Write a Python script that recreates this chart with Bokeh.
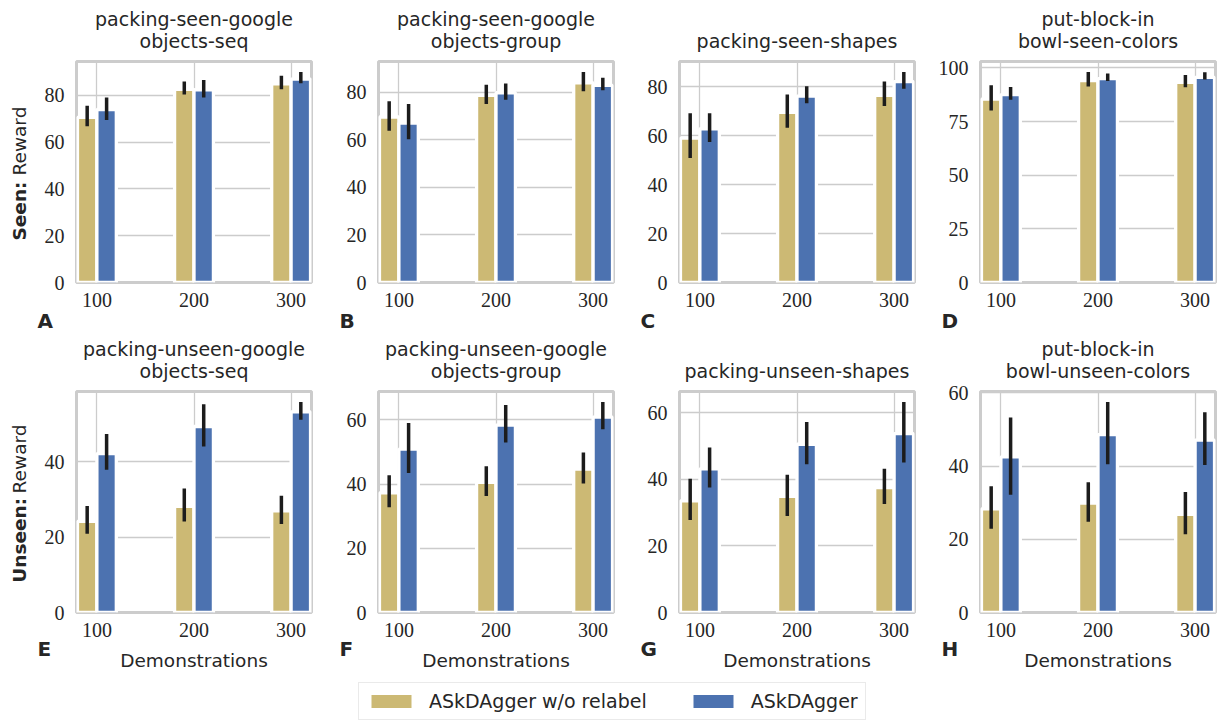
from math import pi
from bokeh.plotting import figure
from bokeh.models import FixedTicker, Range1d, Legend, LegendItem, GridBox
from bokeh.core.properties import value
from bokeh.layouts import column, row
from bokeh.embed import file_html
from bokeh.resources import INLINE

# ---------------- data ----------------
demos = [100, 200, 300]
series_names = ["ASkDAgger w/o relabel", "ASkDAgger"]
title_lines = [
    ["packing-seen-google", "objects-seq"],
    ["packing-seen-google", "objects-group"],
    ["packing-seen-shapes"],
    ["put-block-in", "bowl-seen-colors"],
    ["packing-unseen-google", "objects-seq"],
    ["packing-unseen-google", "objects-group"],
    ["packing-unseen-shapes"],
    ["put-block-in", "bowl-unseen-colors"],
]
letters = ["A", "B", "C", "D", "E", "F", "G", "H"]
row_labels = ["Seen:", "Unseen:"]
y_label_rest = "Reward"
x_label = "Demonstrations"
y_ticks_20 = [0, 20, 40, 60, 80, 100]
y_ticks_25 = [0, 25, 50, 75, 100]

# A: packing-seen-google-objects-seq
A_wo_mean = [70.5, 82.5, 84.8]
A_wo_lo = [66.7, 80.3, 82.5]
A_wo_hi = [75.5, 85.8, 88.3]
A_ask_mean = [73.9, 82.3, 86.9]
A_ask_lo = [69.4, 79.0, 85.1]
A_ask_hi = [79.0, 86.5, 89.9]
# B: packing-seen-google-objects-group
B_wo_mean = [69.5, 78.6, 83.9]
B_wo_lo = [63.7, 75.0, 80.3]
B_wo_hi = [76.1, 83.1, 88.4]
B_ask_mean = [67.0, 79.7, 82.8]
B_ask_lo = [60.2, 76.8, 80.7]
B_ask_hi = [75.0, 83.6, 86.0]
# C: packing-seen-shapes
C_wo_mean = [59.1, 69.6, 76.6]
C_wo_lo = [50.9, 63.3, 72.2]
C_wo_hi = [69.2, 76.9, 82.2]
C_ask_mean = [62.9, 76.2, 82.2]
C_ask_lo = [57.5, 73.3, 79.3]
C_ask_hi = [69.2, 80.3, 86.1]
# D: put-block-in-bowl-seen-colors
D_wo_mean = [85.5, 94.1, 93.3]
D_wo_lo = [80.2, 91.3, 91.0]
D_wo_hi = [91.9, 98.1, 96.7]
D_ask_mean = [87.6, 95.0, 95.6]
D_ask_lo = [85.2, 93.9, 94.6]
D_ask_hi = [91.1, 97.4, 98.0]
# E: packing-unseen-google-objects-seq
E_wo_mean = [24.2, 28.2, 27.0]
E_wo_lo = [20.9, 24.2, 23.5]
E_wo_hi = [28.3, 32.9, 31.0]
E_ask_mean = [42.2, 49.4, 53.3]
E_ask_lo = [37.9, 44.1, 51.2]
E_ask_hi = [47.4, 55.3, 55.9]
# F: packing-unseen-google-objects-group
F_wo_mean = [37.3, 40.6, 44.7]
F_wo_lo = [32.8, 36.3, 40.2]
F_wo_hi = [42.8, 45.6, 49.9]
F_ask_mean = [50.9, 58.4, 60.9]
F_ask_lo = [43.5, 53.0, 57.1]
F_ask_hi = [59.1, 64.7, 65.6]
# G: packing-unseen-shapes
G_wo_mean = [33.6, 34.9, 37.6]
G_wo_lo = [27.8, 29.0, 32.6]
G_wo_hi = [40.2, 41.4, 43.2]
G_ask_mean = [43.2, 50.6, 53.8]
G_ask_lo = [37.6, 44.6, 45.1]
G_ask_hi = [49.6, 57.3, 63.3]
# H: put-block-in-bowl-unseen-colors
H_wo_mean = [28.3, 29.9, 26.8]
H_wo_lo = [22.9, 24.8, 21.4]
H_wo_hi = [34.5, 35.6, 32.9]
H_ask_mean = [42.5, 48.6, 47.1]
H_ask_lo = [32.2, 40.5, 40.3]
H_ask_hi = [53.3, 57.5, 54.7]

panels = [
    (A_wo_mean, A_wo_lo, A_wo_hi, A_ask_mean, A_ask_lo, A_ask_hi, y_ticks_20),
    (B_wo_mean, B_wo_lo, B_wo_hi, B_ask_mean, B_ask_lo, B_ask_hi, y_ticks_20),
    (C_wo_mean, C_wo_lo, C_wo_hi, C_ask_mean, C_ask_lo, C_ask_hi, y_ticks_20),
    (D_wo_mean, D_wo_lo, D_wo_hi, D_ask_mean, D_ask_lo, D_ask_hi, y_ticks_25),
    (E_wo_mean, E_wo_lo, E_wo_hi, E_ask_mean, E_ask_lo, E_ask_hi, y_ticks_20),
    (F_wo_mean, F_wo_lo, F_wo_hi, F_ask_mean, F_ask_lo, F_ask_hi, y_ticks_20),
    (G_wo_mean, G_wo_lo, G_wo_hi, G_ask_mean, G_ask_lo, G_ask_hi, y_ticks_20),
    (H_wo_mean, H_wo_lo, H_wo_hi, H_ask_mean, H_ask_lo, H_ask_hi, y_ticks_20),
]

# ---------------- style / layout ----------------
GOLD = "#ccb974"
BLUE = "#4c72b0"
TXT = "#262626"
GRID = "#cccccc"
SANS = "DejaVu Sans"
SERIF = "Liberation Serif"
BAR_W = 20
OFFSET = 10
PAGE_W, PAGE_H = 1218, 720

col_borders = [(76, 5), (62, 4), (62, 4), (62, 3)]   # left, right
row_borders = [(61, 48), (61, 65)]                   # top, bottom
FRAME_W = 235
FRAME_H = 221
LEGEND_H = PAGE_H - sum(t + FRAME_H + b for t, b in row_borders)

col_x0 = []
acc = 0
for bl, br in col_borders:
    col_x0.append(acc)
    acc += bl + FRAME_W + br
row_y0 = []
acc = 0
for bt, bb in row_borders:
    row_y0.append(acc)
    acc += bt + FRAME_H + bb
frame_left = [col_x0[c] + col_borders[c][0] for c in range(4)]
frame_top = [row_y0[r] + row_borders[r][0] for r in range(2)]
frame_bottom = [t + FRAME_H for t in frame_top]


def make_panel(idx):
    r, c = divmod(idx, 4)
    wo, wo_lo, wo_hi, ask, ask_lo, ask_hi, ticks = panels[idx]
    bl, br = col_borders[c]
    bt, bb = row_borders[r]
    y_end = 1.05 * max(wo_hi + ask_hi)
    p = figure(
        width=bl + FRAME_W + br, height=bt + FRAME_H + bb,
        x_range=Range1d(79, 321), y_range=Range1d(0, y_end),
        output_backend="svg", toolbar_location=None,
        min_border_left=bl, min_border_right=br,
        min_border_top=bt, min_border_bottom=bb,
    )
    p.background_fill_color = "white"
    p.border_fill_color = "white"
    p.outline_line_color = GRID
    p.outline_line_width = 3

    p.xaxis.ticker = FixedTicker(ticks=demos)
    p.yaxis.ticker = FixedTicker(ticks=ticks)
    for ax in (p.xaxis, p.yaxis):
        ax.axis_line_color = None
        ax.major_tick_line_color = None
        ax.minor_tick_line_color = None
        ax.major_tick_out = 0
        ax.major_tick_in = 0
        ax.minor_tick_out = 0
        ax.major_label_text_font = SERIF
        ax.major_label_text_font_size = "20px"
        ax.major_label_text_color = TXT
    p.xaxis.major_label_standoff = 10
    p.yaxis.major_label_standoff = 12
    if r == 1:
        p.xaxis.axis_label = x_label
        p.xaxis.axis_label_text_font = SANS
        p.xaxis.axis_label_text_font_size = "18.5px"
        p.xaxis.axis_label_text_font_style = "normal"
        p.xaxis.axis_label_text_color = TXT
        p.xaxis.axis_label_standoff = 10

    p.grid.grid_line_color = GRID
    p.grid.grid_line_width = 1.3

    x_wo = [d - OFFSET for d in demos]
    x_ask = [d + OFFSET for d in demos]
    p.vbar(x=x_wo, top=wo, width=BAR_W, fill_color=GOLD,
           line_color="white", line_width=3.3)
    p.vbar(x=x_ask, top=ask, width=BAR_W, fill_color=BLUE,
           line_color="white", line_width=3.3)
    p.segment(x0=x_wo, y0=wo_lo, x1=x_wo, y1=wo_hi,
              line_color="#1c1c1c", line_width=3.5)
    p.segment(x0=x_ask, y0=ask_lo, x1=x_ask, y1=ask_hi,
              line_color="#1c1c1c", line_width=3.5)
    return p


figs = [make_panel(i) for i in range(8)]

# ---------------- legend ----------------
lf = figure(width=PAGE_W, height=LEGEND_H, x_range=Range1d(0, 1),
            y_range=Range1d(0, 1), output_backend="svg", toolbar_location=None,
            x_axis_location=None, y_axis_location=None, min_border=0)
lf.outline_line_color = None
lf.grid.visible = False
lf.background_fill_color = "white"
lf.border_fill_color = "white"
r1 = lf.vbar(x=[5], top=[1], width=0.1, fill_color=GOLD, line_color=None)
r2 = lf.vbar(x=[5], top=[1], width=0.1, fill_color=BLUE, line_color=None)
legend = Legend(
    items=[LegendItem(label=series_names[0], renderers=[r1]),
           LegendItem(label=series_names[1], renderers=[r2])],
    orientation="horizontal", location=(358, 0),
    glyph_width=50, glyph_height=16, label_standoff=13, spacing=41,
    padding=7, margin=0,
    label_text_font=SANS, label_text_font_size="19px", label_text_color=TXT,
    border_line_color="#d5d5d5", border_line_width=1.5,
    background_fill_color="white", background_fill_alpha=1.0,
)
lf.add_layout(legend, "center")

main = column(row(*figs[:4]), row(*figs[4:]), lf)

# ---------------- transparent text overlay (titles, row labels, letters) ----------------
ov = figure(width=PAGE_W, height=PAGE_H, x_range=Range1d(0, PAGE_W),
            y_range=Range1d(PAGE_H, 0), output_backend="svg",
            toolbar_location=None, x_axis_location=None, y_axis_location=None,
            min_border=0)
ov.outline_line_color = None
ov.grid.visible = False
ov.background_fill_color = None
ov.border_fill_color = None

TITLE_BASE = 40.5   # baseline of the last title line, from the row top
TITLE_LEAD = 22.0
t_x, t_y, t_txt = [], [], []
for i, lines in enumerate(title_lines):
    r, c = divmod(i, 4)
    cx = frame_left[c] + FRAME_W / 2
    last = row_y0[r] + TITLE_BASE
    n = len(lines)
    for k, line in enumerate(lines):
        t_x.append(cx)
        t_y.append(last - (n - 1 - k) * TITLE_LEAD)
        t_txt.append(line)
ov.text(x=t_x, y=t_y, text=t_txt, text_align="center",
        text_baseline="alphabetic", text_font=value(SANS),
        text_font_size=value("19px"), text_color=TXT)

# panel letters
l_x = [frame_left[i % 4] - 39 for i in range(8)]
l_y = [frame_bottom[i // 4] + (38 if i < 4 else 36) for i in range(8)]
ov.text(x=l_x, y=l_y, text=letters, text_align="left",
        text_baseline="alphabetic", text_font=value(SANS),
        text_font_size=value("20px"), text_font_style="bold", text_color=TXT)

# row labels: bold prefix + regular "Reward", rotated
bold_len = [65.0, 89.3]
half_len = [67.5, 79.7]
for r in range(2):
    mid = (frame_top[r] + frame_bottom[r]) / 2 + 1
    start = mid + half_len[r]
    ov.text(x=[19], y=[start], text=[row_labels[r]], angle=pi / 2,
            text_align="left", text_baseline="middle", text_font=value(SANS),
            text_font_size=value("18.5px"), text_font_style="bold",
            text_color=TXT)
    ov.text(x=[19], y=[start - bold_len[r]], text=[y_label_rest], angle=pi / 2,
            text_align="left", text_baseline="middle", text_font=value(SANS),
            text_font_size=value("18.5px"), text_color=TXT)

layout = GridBox(children=[(main, 0, 0), (ov, 0, 0)])
open("out.html", "w").write(file_html(layout, INLINE))
